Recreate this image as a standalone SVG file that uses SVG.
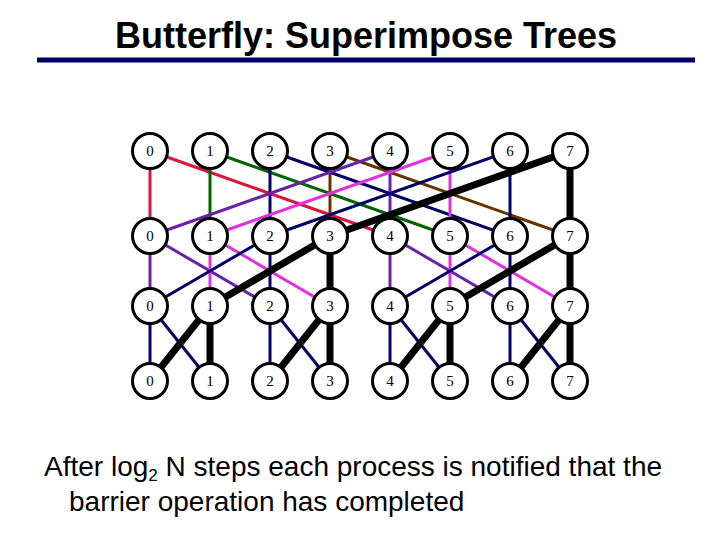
<svg xmlns="http://www.w3.org/2000/svg" width="720" height="540" viewBox="0 0 720 540">
<style>
.n circle{fill:#fff;stroke:#000;stroke-width:3}
.n text{font-family:"Liberation Serif",serif;font-size:15px;text-anchor:middle}
#edges line{stroke-width:3}
.r{stroke:#dc143c}.g{stroke:#006400}.b{stroke:#000066}.w{stroke:#663300}.p{stroke:#6622aa}.m{stroke:#e030e0}
#edges line.k{stroke:#000;stroke-width:7}
</style>
<rect width="720" height="540" fill="#fff"/>
<text x="366" y="48" font-family="Liberation Sans,sans-serif" font-weight="bold" font-size="36" text-anchor="middle" textLength="502" lengthAdjust="spacingAndGlyphs">Butterfly: Superimpose Trees</text>
<line x1="37" y1="60" x2="695" y2="60" stroke="#000066" stroke-width="5"/>
<g id="edges">
<line class="r" x1="150" y1="151" x2="150" y2="236"/><line class="r" x1="150" y1="151" x2="390" y2="236"/>
<line class="g" x1="210" y1="151" x2="210" y2="236"/><line class="g" x1="210" y1="151" x2="450" y2="236"/>
<line class="b" x1="270" y1="151" x2="270" y2="236"/><line class="b" x1="270" y1="151" x2="510" y2="236"/>
<line class="w" x1="330" y1="151" x2="330" y2="236"/><line class="w" x1="330" y1="151" x2="570" y2="236"/>
<line class="p" x1="390" y1="151" x2="390" y2="236"/><line class="p" x1="390" y1="151" x2="150" y2="236"/>
<line class="m" x1="450" y1="151" x2="450" y2="236"/><line class="m" x1="450" y1="151" x2="210" y2="236"/>
<line class="b" x1="510" y1="151" x2="510" y2="236"/><line class="b" x1="510" y1="151" x2="270" y2="236"/>
<line class="k" x1="570" y1="151" x2="570" y2="236"/><line class="k" x1="570" y1="151" x2="330" y2="236"/>
<line class="p" x1="150" y1="236" x2="150" y2="306"/><line class="p" x1="150" y1="236" x2="270" y2="306"/>
<line class="m" x1="210" y1="236" x2="210" y2="306"/><line class="m" x1="210" y1="236" x2="330" y2="306"/>
<line class="b" x1="270" y1="236" x2="270" y2="306"/><line class="b" x1="270" y1="236" x2="150" y2="306"/>
<line class="k" x1="330" y1="236" x2="330" y2="306"/><line class="k" x1="330" y1="236" x2="210" y2="306"/>
<line class="p" x1="390" y1="236" x2="390" y2="306"/><line class="p" x1="390" y1="236" x2="510" y2="306"/>
<line class="m" x1="450" y1="236" x2="450" y2="306"/><line class="m" x1="450" y1="236" x2="570" y2="306"/>
<line class="b" x1="510" y1="236" x2="510" y2="306"/><line class="b" x1="510" y1="236" x2="390" y2="306"/>
<line class="k" x1="570" y1="236" x2="570" y2="306"/><line class="k" x1="570" y1="236" x2="450" y2="306"/>
<line class="b" x1="150" y1="306" x2="150" y2="381"/><line class="b" x1="150" y1="306" x2="210" y2="381"/>
<line class="k" x1="210" y1="306" x2="210" y2="381"/><line class="k" x1="210" y1="306" x2="150" y2="381"/>
<line class="b" x1="270" y1="306" x2="270" y2="381"/><line class="b" x1="270" y1="306" x2="330" y2="381"/>
<line class="k" x1="330" y1="306" x2="330" y2="381"/><line class="k" x1="330" y1="306" x2="270" y2="381"/>
<line class="b" x1="390" y1="306" x2="390" y2="381"/><line class="b" x1="390" y1="306" x2="450" y2="381"/>
<line class="k" x1="450" y1="306" x2="450" y2="381"/><line class="k" x1="450" y1="306" x2="390" y2="381"/>
<line class="b" x1="510" y1="306" x2="510" y2="381"/><line class="b" x1="510" y1="306" x2="570" y2="381"/>
<line class="k" x1="570" y1="306" x2="570" y2="381"/><line class="k" x1="570" y1="306" x2="510" y2="381"/>
</g>
<g id="nodes">
<g id="r0" class="n">
<circle cx="150" cy="151" r="17.5"/><text x="150" y="156">0</text>
<circle cx="210" cy="151" r="17.5"/><text x="210" y="156">1</text>
<circle cx="270" cy="151" r="17.5"/><text x="270" y="156">2</text>
<circle cx="330" cy="151" r="17.5"/><text x="330" y="156">3</text>
<circle cx="390" cy="151" r="17.5"/><text x="390" y="156">4</text>
<circle cx="450" cy="151" r="17.5"/><text x="450" y="156">5</text>
<circle cx="510" cy="151" r="17.5"/><text x="510" y="156">6</text>
<circle cx="570" cy="151" r="17.5"/><text x="570" y="156">7</text>
</g>
<g id="r1" class="n">
<circle cx="150" cy="236" r="17.5"/><text x="150" y="241">0</text>
<circle cx="210" cy="236" r="17.5"/><text x="210" y="241">1</text>
<circle cx="270" cy="236" r="17.5"/><text x="270" y="241">2</text>
<circle cx="330" cy="236" r="17.5"/><text x="330" y="241">3</text>
<circle cx="390" cy="236" r="17.5"/><text x="390" y="241">4</text>
<circle cx="450" cy="236" r="17.5"/><text x="450" y="241">5</text>
<circle cx="510" cy="236" r="17.5"/><text x="510" y="241">6</text>
<circle cx="570" cy="236" r="17.5"/><text x="570" y="241">7</text>
</g>
<g id="r2" class="n">
<circle cx="150" cy="306" r="17.5"/><text x="150" y="311">0</text>
<circle cx="210" cy="306" r="17.5"/><text x="210" y="311">1</text>
<circle cx="270" cy="306" r="17.5"/><text x="270" y="311">2</text>
<circle cx="330" cy="306" r="17.5"/><text x="330" y="311">3</text>
<circle cx="390" cy="306" r="17.5"/><text x="390" y="311">4</text>
<circle cx="450" cy="306" r="17.5"/><text x="450" y="311">5</text>
<circle cx="510" cy="306" r="17.5"/><text x="510" y="311">6</text>
<circle cx="570" cy="306" r="17.5"/><text x="570" y="311">7</text>
</g>
<g id="r3" class="n">
<circle cx="150" cy="381" r="17.5"/><text x="150" y="386">0</text>
<circle cx="210" cy="381" r="17.5"/><text x="210" y="386">1</text>
<circle cx="270" cy="381" r="17.5"/><text x="270" y="386">2</text>
<circle cx="330" cy="381" r="17.5"/><text x="330" y="386">3</text>
<circle cx="390" cy="381" r="17.5"/><text x="390" y="386">4</text>
<circle cx="450" cy="381" r="17.5"/><text x="450" y="386">5</text>
<circle cx="510" cy="381" r="17.5"/><text x="510" y="386">6</text>
<circle cx="570" cy="381" r="17.5"/><text x="570" y="386">7</text>
</g>
</g>
<g font-family="Liberation Sans,sans-serif" font-size="28">
<text x="44" y="476">After log<tspan font-size="17" dy="5">2</tspan><tspan dy="-5"> N steps each process is notified that the</tspan></text>
<text x="69" y="511">barrier operation has completed</text>
</g>
</svg>
